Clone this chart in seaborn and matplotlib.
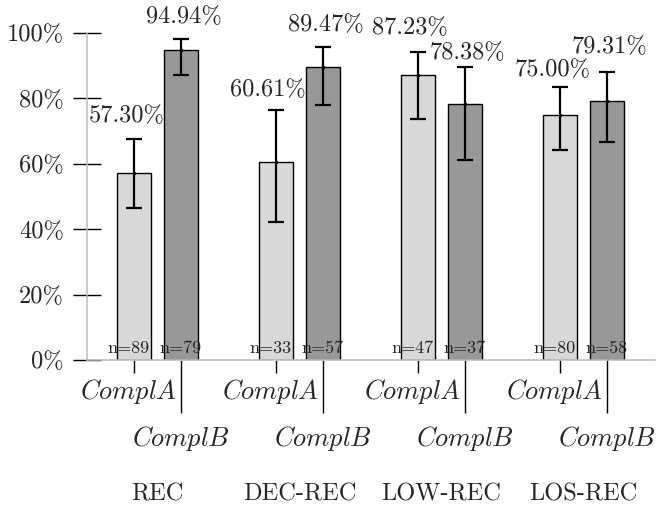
import matplotlib
matplotlib.use("Agg")
import matplotlib.pyplot as plt
import matplotlib.transforms as mtransforms
import seaborn as sns
import pandas as pd
from matplotlib.ticker import FuncFormatter

groups = ["REC", "DEC-REC", "LOW-REC", "LOS-REC"]
compl = ["ComplA", "ComplB"]
rate_a = [57.30, 60.61, 87.23, 75.00]
rate_b = [94.94, 89.47, 78.38, 79.31]
n_a = [89, 33, 47, 80]
n_b = [79, 57, 37, 58]
# confidence interval ends
lo_a = [46.5, 42.2, 73.7, 64.2]
hi_a = [67.6, 76.5, 94.2, 83.5]
lo_b = [87.2, 78.0, 61.2, 66.7]
hi_b = [98.2, 95.7, 89.6, 88.1]

# where the percentage labels sit (in % of the y axis)
label_y_a = [74.6, 82.6, 101.5, 88.7]
label_y_b = [104.9, 102.4, 93.9, 95.7]

sns.set_style("white")
plt.rcParams["font.family"] = ["cmr10", "DejaVu Serif"]
plt.rcParams["mathtext.fontset"] = "cm"
plt.rcParams["axes.unicode_minus"] = False

df = pd.DataFrame({
    "group": groups * 2,
    "compl": [compl[0]] * 4 + [compl[1]] * 4,
    "rate": rate_a + rate_b,
})

fig = plt.figure(figsize=(6.63, 5.08), dpi=100)
ax = fig.add_axes([87 / 663, 148 / 508, 568 / 663, 327 / 508])

sns.barplot(data=df, x="group", y="rate", hue="compl", order=groups,
            hue_order=compl, palette=["#d7d8d7", "#979897"], width=0.657,
            gap=0.272, edgecolor="black", linewidth=1, errorbar=None,
            legend=False, ax=ax)

ax.set_xlim(-0.4965, 3.5035)
ax.set_ylim(0, 100)
ax.set_xlabel("")
ax.set_ylabel("")

fs = 17.6
xa, xb = [], []
for cont, rates, lo, hi, ns, ly, shift, store in [
        (ax.containers[0], rate_a, lo_a, hi_a, n_a, label_y_a, -0.056, xa),
        (ax.containers[1], rate_b, lo_b, hi_b, n_b, label_y_b, 0.02, xb)]:
    for p, r, l, h, n, y in zip(cont.patches, rates, lo, hi, ns, ly):
        x = p.get_x() + p.get_width() / 2
        store.append(x)
        ax.errorbar(x, r, yerr=[[r - l], [h - r]], fmt=".", color="black",
                    ms=3, elinewidth=1.6, capsize=5.8, capthick=1.6,
                    clip_on=False, zorder=5)
        ax.text(x + shift, y, f"{r:.2f}%", ha="center", va="center",
                fontsize=fs, clip_on=False)
        ax.text(x - (0.04 if shift < 0 else 0), 3.7, f"n={n}", ha="center",
                va="center", fontsize=13, zorder=6)

# y axis
ax.yaxis.set_major_formatter(FuncFormatter(lambda v, _: f"{v:.0f}%"))
ax.set_yticks([0, 20, 40, 60, 80, 100])
ax.tick_params(axis="y", direction="inout", length=19.5, width=1,
               color="black", labelsize=fs, pad=7, left=True)

# staggered x tick labels: ComplA on major ticks, ComplB on minor ticks
ax.set_xticks(xa)
ax.set_xticklabels([r"$\mathit{ComplA}$"] * 4)
ax.set_xticks(xb, minor=True)
ax.set_xticklabels([r"$\mathit{ComplB}$"] * 4, minor=True)
ax.tick_params(axis="x", which="major", direction="out", length=9.4,
               width=1, color="black", labelsize=19, pad=3, bottom=True)
ax.tick_params(axis="x", which="minor", direction="out", length=38,
               width=1, color="black", labelsize=19, pad=8, bottom=True)
shift_left = mtransforms.ScaledTranslation(-0.06, 0, fig.dpi_scale_trans)
for lbl in ax.get_xticklabels():
    lbl.set_transform(lbl.get_transform() + shift_left)

for i, g in enumerate(groups):
    ax.text(i, -0.41, g, transform=ax.get_xaxis_transform(), ha="center",
            va="center", fontsize=fs)

for s in ["top", "right"]:
    ax.spines[s].set_visible(False)
for s in ["left", "bottom"]:
    ax.spines[s].set_color("#bdbdbd")
    ax.spines[s].set_linewidth(1.1)

fig.savefig("out.png", dpi=100)
